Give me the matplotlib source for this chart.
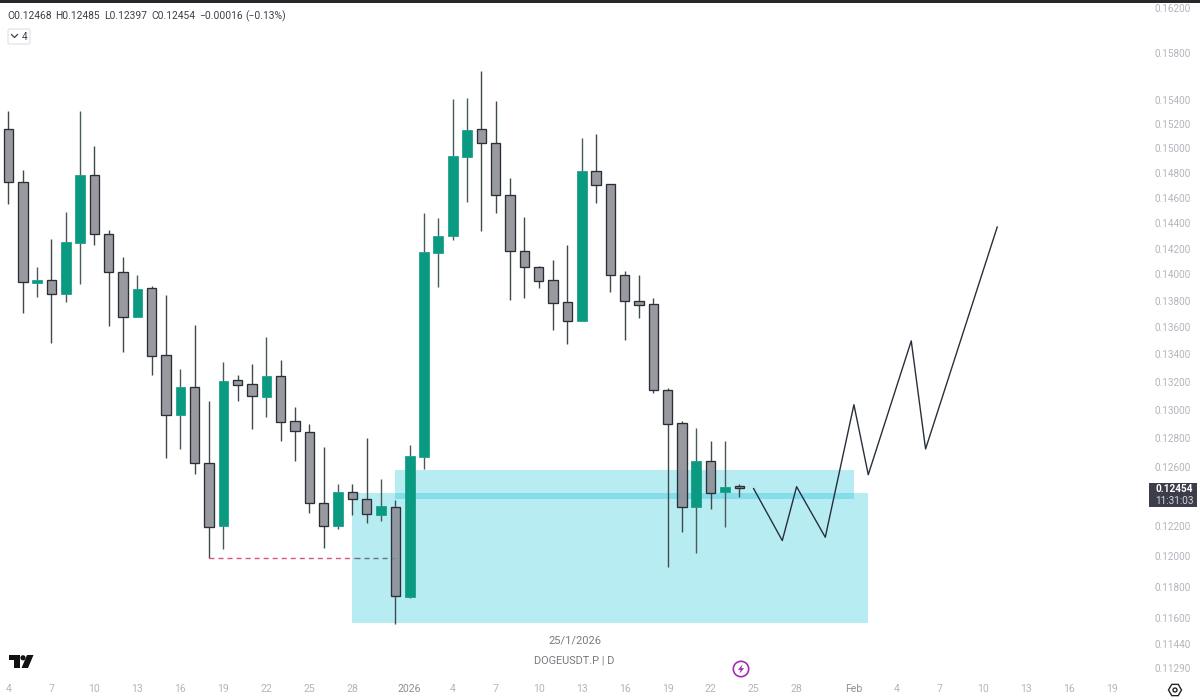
import matplotlib
matplotlib.use("Agg")
import matplotlib.pyplot as plt
from matplotlib.colors import to_rgba
from matplotlib.patches import Circle, FancyBboxPatch, Polygon, Rectangle, RegularPolygon

plt.rcParams['font.family'] = ['Roboto', 'DejaVu Sans']

# =====================================================================
# DATA - daily candles, Dec 4 (index 0) onwards
# =====================================================================
opens = [0.15160, 0.14726, 0.13934, 0.13961, 0.13851, 0.14246, 0.14782, 0.14317, 0.14022, 0.13678,
         0.13896, 0.13396, 0.12964, 0.13166, 0.12628, 0.12202, 0.13214, 0.13182, 0.13094, 0.13245,
         0.12921, 0.12844, 0.12353, 0.12200, 0.12429, 0.12384, 0.12275, 0.12326, 0.11735, 0.12670,
         0.14167, 0.14298, 0.14932, 0.15158, 0.15044, 0.14624, 0.14180, 0.14057, 0.13957, 0.13788,
         0.13648, 0.14817, 0.14708, 0.13993, 0.13797, 0.13775, 0.13142, 0.12907, 0.12330, 0.12642,
         0.12428, 0.12468]
highs = [0.15309, 0.14823, 0.14059, 0.14274, 0.14487, 0.15309, 0.15019, 0.14345, 0.14136, 0.13995,
         0.13911, 0.13843, 0.13294, 0.13620, 0.13063, 0.13345, 0.13250, 0.13332, 0.13529, 0.13360,
         0.13023, 0.12900, 0.12741, 0.12484, 0.12484, 0.12802, 0.12520, 0.12375, 0.12753, 0.14479,
         0.14439, 0.15407, 0.15415, 0.15650, 0.15395, 0.14760, 0.14445, 0.14064, 0.14111, 0.14227,
         0.15083, 0.15118, 0.14708, 0.14028, 0.13995, 0.13822, 0.13156, 0.12923, 0.12872, 0.12781,
         0.12781, 0.12485]
lows = [0.14550, 0.13710, 0.13828, 0.13485, 0.13790, 0.13929, 0.14227, 0.13611, 0.13418, 0.13678,
        0.13250, 0.12663, 0.12725, 0.12552, 0.11988, 0.12048, 0.13063, 0.12865, 0.12950, 0.12781,
        0.12644, 0.12290, 0.12056, 0.12182, 0.12274, 0.12222, 0.12234, 0.11563, 0.11729, 0.12586,
        0.13906, 0.14267, 0.14566, 0.14339, 0.14479, 0.13805, 0.13818, 0.13899, 0.13581, 0.13477,
        0.13648, 0.14561, 0.13868, 0.13507, 0.13670, 0.13120, 0.11931, 0.12162, 0.12023, 0.12314,
        0.12196, 0.12397]
closes = [0.14726, 0.13942, 0.13957, 0.13851, 0.14251, 0.14782, 0.14317, 0.14018, 0.13678, 0.13889,
          0.13389, 0.12966, 0.13166, 0.12628, 0.12196, 0.13209, 0.13180, 0.13102, 0.13245, 0.12916,
          0.12851, 0.12351, 0.12200, 0.12429, 0.12382, 0.12277, 0.12335, 0.11742, 0.12676, 0.14175,
          0.14300, 0.14939, 0.15154, 0.15041, 0.14624, 0.14178, 0.14057, 0.13947, 0.13783, 0.13648,
          0.14817, 0.14700, 0.13993, 0.13795, 0.13771, 0.13142, 0.12900, 0.12330, 0.12640, 0.12425,
          0.12465, 0.12454]

# hand drawn projection
path_days = [52, 54, 55, 57, 59, 60, 63, 64, 69]
path_prices = [0.12452, 0.12103, 0.12465, 0.12125, 0.13037, 0.12547, 0.13500, 0.12725, 0.14368]

# two zones: (first day, last day, bottom, top)
zone_upper = (27, 59, 0.12382, 0.12580)
zone_lower = (24, 60, 0.11571, 0.12423)
sweep_price = 0.11988

y_ticks = [0.16200, 0.15800, 0.15400, 0.15200, 0.15000, 0.14800, 0.14600, 0.14400, 0.14200, 0.14000,
           0.13800, 0.13600, 0.13400, 0.13200, 0.13000, 0.12800, 0.12600, 0.12200, 0.12000, 0.11800,
           0.11600, 0.11440, 0.11290]
x_ticks = [0, 3, 6, 9, 12, 15, 18, 21, 24, 28, 31, 34, 37, 40, 43, 46, 49, 52, 55, 59, 62, 65, 68, 71, 74, 77]
x_labels = ["4", "7", "10", "13", "16", "19", "22", "25", "28", "2026", "4", "7", "10", "13", "16", "19",
            "22", "25", "28", "Feb", "4", "7", "10", "13", "16", "19"]
legend_parts = ["O0.12468", "H0.12485", "L0.12397", "C0.12454", "\u22120.00016", "(\u22120.13%)"]

# =====================================================================
# STYLE
# =====================================================================
GREEN = '#0a9981'
GREY_BODY = to_rgba('#8b8c93', 0.88)
DARK = '#2b2e36'
ZONE = '#00bcd4'
LABEL = '#b2b5bb'

fig = plt.figure(figsize=(12, 7), dpi=100, facecolor='white')
ax = fig.add_axes([0, 0, 1, 1])
ax.set_yscale('log')
ax.set_xlim(-0.59, 83.15)
ax.set_ylim(0.11092, 0.16268)
for spine in ax.spines.values():
    spine.set_visible(False)

# zones sit underneath the candles
for x0, x1, lo, hi in (zone_upper, zone_lower):
    ax.fill_between([x0, x1], lo, hi, color=ZONE, alpha=0.28, linewidth=0, zorder=1)

# candles
for i in range(len(opens)):
    top = max(opens[i], closes[i])
    bot = min(opens[i], closes[i])
    up = closes[i] > opens[i]
    wick = '#3f4a4c' if not up else '#4a5a58'
    ax.vlines(i, top, highs[i], color=wick, linewidth=1.0, zorder=2)
    ax.vlines(i, lows[i], bot, color=wick, linewidth=1.0, zorder=2)
    if up:
        ax.bar(i, top - bot, bottom=bot, width=0.68, color=GREEN, edgecolor=GREEN, linewidth=0.5, zorder=3)
    else:
        ax.bar(i, top - bot, bottom=bot, width=0.66, color=GREY_BODY, edgecolor=DARK, linewidth=0.95, zorder=3)

# dashed sweep line
ax.plot([14, 24.2], [sweep_price, sweep_price], color='#d9537f', linewidth=1, dashes=(3.6, 2.9), zorder=2)
ax.plot([24.2, 27], [sweep_price, sweep_price], color='#66708a', linewidth=1, dashes=(3.6, 2.9), zorder=2)

# projection path
ax.plot(path_days, path_prices, color='#27303a', linewidth=1, zorder=4)

# axes labels live inside the picture, TradingView style
ax.yaxis.tick_right()
ax.minorticks_off()
ax.yaxis.set_ticks(y_ticks, labels=[f"{v:.5f}" for v in y_ticks], minor=False)
ax.yaxis.set_ticks([], minor=True)
ax.tick_params(axis='y', length=0, pad=-32.5, labelsize=7.2, labelcolor=LABEL, labelright=True, labelleft=False)
ax.set_xticks(x_ticks, labels=x_labels)
ax.tick_params(axis='x', length=0, pad=-11.5, labelsize=7.6, labelcolor=LABEL)
for lab in ax.get_xticklabels():
    if lab.get_text() in ("2026", "Feb"):
        lab.set_color('#8d9096')

# overlay in pixel coordinates for the chrome
ui = fig.add_axes([0, 0, 1, 1], facecolor='none', zorder=10)
ui.set_xlim(0, 1200)
ui.set_ylim(700, 0)
ui.axis('off')

ui.add_patch(Rectangle((0, 0), 1200, 3, color='#26282c', linewidth=0))
for part, px in zip(legend_parts, [7, 55, 104, 151, 199, 245]):
    ui.text(px, 16, part, fontsize=7.4, color='#3c3f46', va='center', ha='left')

ui.add_patch(FancyBboxPatch((8, 29), 22, 15, boxstyle="round,pad=0,rounding_size=2",
                            facecolor='white', edgecolor='#e4e6ea', linewidth=1))
ui.plot([11.5, 14.5, 17.5], [34.5, 37.5, 34.5], color='#3c3f46', linewidth=0.9)
ui.text(25, 36.5, "4", fontsize=7.2, color='#3c3f46', va='center', ha='center')

# last price tag
ui.add_patch(Rectangle((1149, 483), 48, 24, color='#3b3e4a', linewidth=0))
ui.text(1155.5, 489.5, "0.12454", fontsize=7.2, color='white', weight='bold', va='center', ha='left')
ui.text(1155.5, 500.5, "11:31:03", fontsize=7.2, color='#d5d6da', va='center', ha='left')

ui.text(574.5, 641, "25/1/2026", fontsize=8.0, color='#777a80', va='center', ha='center')
ui.text(574.5, 660.5, "DOGEUSDT.P | D", fontsize=7.9, color='#777a80', va='center', ha='center')

# TradingView logo
ui.add_patch(Polygon([(9, 655), (20, 655), (20, 668), (14, 668), (14, 660), (9, 660)], color='#111111', linewidth=0))
ui.add_patch(Circle((23, 657.8), 2.6, color='#111111', linewidth=0))
ui.add_patch(Polygon([(27, 655), (33.5, 655), (28, 668), (21.5, 668)], color='#111111', linewidth=0))

# lightning badge
ui.add_patch(Circle((741, 669), 7.7, facecolor='white', edgecolor='#a02eb3', linewidth=1.2))
ui.add_patch(Polygon([(742.5, 664.5), (737.8, 669.8), (740.6, 669.8), (739.5, 673.5), (744.2, 668.2), (741.4, 668.2)],
                     color='#a02eb3', linewidth=0))

# settings icon
ui.add_patch(RegularPolygon((1175, 690), 6, radius=6.5, orientation=1.5708, facecolor='none',
                            edgecolor='#222428', linewidth=1))
ui.add_patch(Circle((1175, 690), 2, facecolor='none', edgecolor='#222428', linewidth=1))

fig.savefig("out.png", dpi=100)
